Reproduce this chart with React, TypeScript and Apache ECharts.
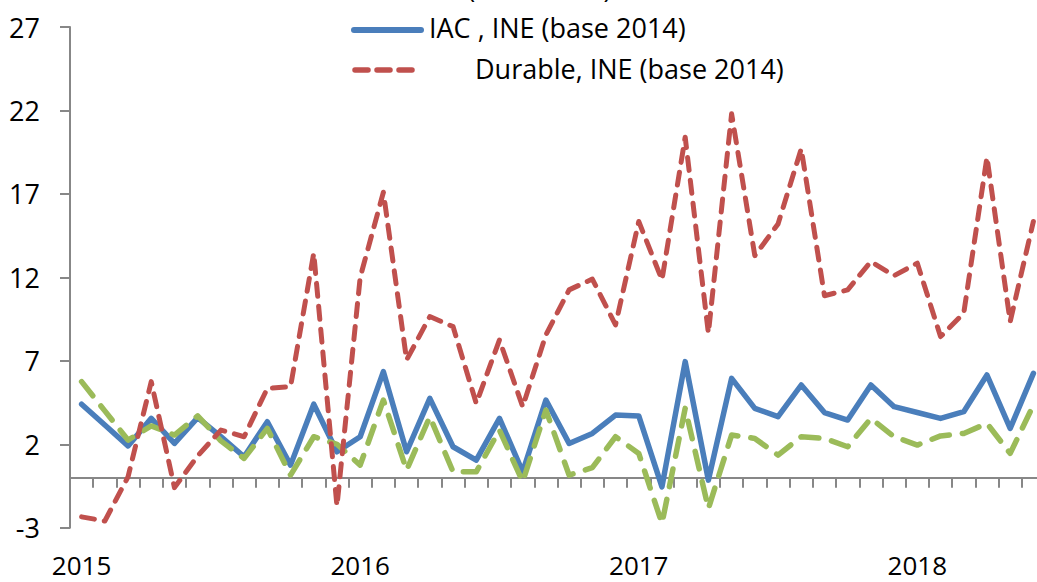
import React, { useEffect, useRef } from "react";
import * as echarts from "echarts";

const months: string[] = [];
for (const y of ["2015", "2016", "2017", "2018"]) {
  for (const m of ["01","02","03","04","05","06","07","08","09","10","11","12"]) {
    if (y === "2018" && Number(m) > 6) break;
    months.push(`${y}-${m}`);
  }
}

const yearLabels = ["2015", "2016", "2017", "2018"];

const seriesIAC = [
  4.4, 3.15, 1.9, 3.55, 2.05, 3.6, 2.45, 1.25, 3.35, 0.75, 4.4, 1.55,
  2.45, 6.35, 1.55, 4.75, 1.85, 1.05, 3.55, 0.35, 4.65, 2.05, 2.65, 3.75,
  3.7, -0.55, 6.95, -0.15, 5.95, 4.15, 3.65, 5.55, 3.9, 3.45, 5.55, 4.25,
  3.9, 3.55, 3.95, 6.15, 2.95, 6.25,
];

const seriesGreen = [
  5.75, 4.0, 2.25, 3.1, 2.55, 3.7, 2.2, 1.15, 2.95, 0.15, 2.45, 2.0,
  0.75, 4.65, 0.45, 3.65, 0.35, 0.35, 2.85, -0.25, 4.05, 0.15, 0.6, 2.45,
  1.45, -2.75, 4.15, -1.85, 2.55, 2.35, 1.35, 2.45, 2.35, 1.85, 3.55, 2.45,
  1.95, 2.5, 2.65, 3.25, 1.45, 4.35,
];

const seriesDurable = [
  -2.35, -2.6, 0.05, 5.75, -0.6, 1.3, 2.85, 2.45, 5.35, 5.45, 13.45, -1.7,
  12.0, 17.1, 7.05, 9.65, 9.05, 4.45, 8.25, 4.25, 8.55, 11.25, 11.9, 9.15,
  15.35, 11.85, 20.4, 8.65, 21.8, 13.3, 15.2, 19.7, 10.9, 11.25, 12.95, 12.1,
  12.85, 8.45, 9.85, 19.2, 9.35, 15.35,
];

const names = {
  green: "IPI (base 2014)",
  blue: "IAC , INE (base 2014)",
  red: "Durable, INE (base 2014)",
};

const BLUE = "#4a7ebb";
const RED = "#c0504d";
const GREEN = "#9bbb59";
const AXIS = "#878787";
const FONT = "'Open Sans', sans-serif";

export default function App() {
  const ref = useRef<HTMLDivElement>(null);
  useEffect(() => {
    document.body.style.margin = "0";
    if (!ref.current) return;
    const chart = echarts.init(ref.current, null, { renderer: "svg" });
    const legendText = (text: string, x: number, y: number) => ({
      type: "text",
      x,
      y,
      style: {
        text,
        font: `27px ${FONT}`,
        fill: "#000",
        verticalAlign: "middle",
        align: "left",
      },
    });
    chart.setOption({
      animation: false,
      backgroundColor: "#fff",
      grid: { left: 70, right: 0, top: 27, bottom: 54.3 },
      xAxis: [
        {
          type: "category",
          data: months,
          boundaryGap: true,
          axisLine: { onZero: true, lineStyle: { color: AXIS, width: 2 } },
          axisTick: { show: true, length: 10, interval: 0, lineStyle: { color: AXIS, width: 2 } },
          axisLabel: { show: false },
          splitLine: { show: false },
        },
        {
          type: "category",
          data: months,
          boundaryGap: true,
          position: "bottom",
          axisLine: { show: false, onZero: false },
          axisTick: { show: false },
          axisLabel: {
            show: true,
            interval: (idx: number) => idx % 12 === 0,
            formatter: (v: string) => {
              const y = v.slice(0, 4);
              return yearLabels.includes(y) ? y : "";
            },
            margin: 26,
            fontSize: 26,
            lineHeight: 22,
            fontFamily: FONT,
            color: "#000",
          },
          splitLine: { show: false },
        },
      ],
      yAxis: {
        type: "value",
        min: -3,
        max: 27,
        interval: 5,
        axisLine: { show: true, lineStyle: { color: AXIS, width: 2 } },
        axisTick: { show: true, length: 10, lineStyle: { color: AXIS, width: 2 } },
        axisLabel: { margin: 30, fontSize: 27, fontFamily: FONT, color: "#000" },
        splitLine: { show: false },
      },
      series: [
        {
          name: names.blue,
          type: "line",
          data: seriesIAC,
          showSymbol: false,
          symbol: "none",
          lineStyle: { color: BLUE, width: 5.5, join: "round", cap: "round" },
          z: 2,
        },
        {
          name: names.green,
          type: "line",
          data: seriesGreen,
          showSymbol: false,
          symbol: "none",
          lineStyle: { color: GREEN, width: 5.5, type: [18, 13], cap: "round", join: "round" },
          z: 3,
        },
        {
          name: names.red,
          type: "line",
          data: seriesDurable,
          showSymbol: false,
          symbol: "none",
          lineStyle: { color: RED, width: 5, type: [13, 10], cap: "round", join: "round" },
          z: 4,
        },
      ],
      graphic: [
        {
          type: "line",
          shape: { x1: 354, y1: -12, x2: 421, y2: -12 },
          style: { stroke: GREEN, lineWidth: 5.5, lineCap: "round", lineDash: [18, 13] },
        },
        legendText(names.green, 429, -13),
        {
          type: "line",
          shape: { x1: 354, y1: 30, x2: 421, y2: 30 },
          style: { stroke: BLUE, lineWidth: 6, lineCap: "round" },
        },
        legendText(names.blue, 429, 27),
        {
          type: "line",
          shape: { x1: 355, y1: 70, x2: 413, y2: 70 },
          style: { stroke: RED, lineWidth: 5.5, lineCap: "round", lineDash: [13, 9] },
        },
        legendText(names.red, 475, 68),
      ],
    });
    return () => chart.dispose();
  }, []);
  return (
    <div style={{ width: 1037, height: 582, overflow: "hidden", position: "relative" }}>
      <div ref={ref} style={{ width: 1045, height: 582 }} />
    </div>
  );
}
